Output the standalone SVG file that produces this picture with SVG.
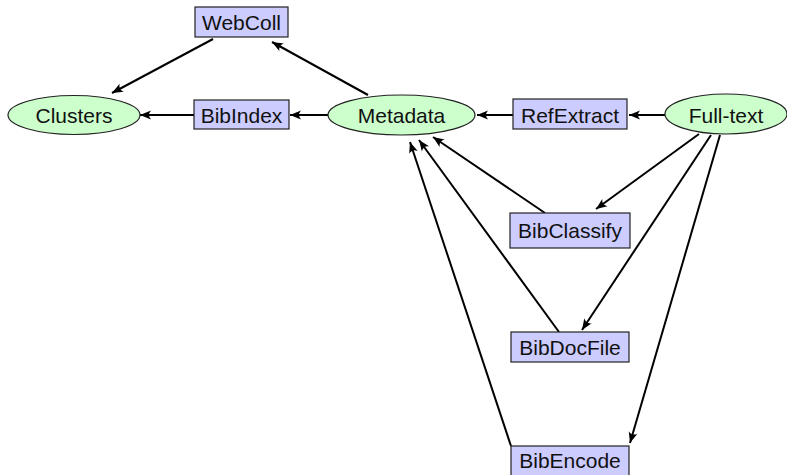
<svg xmlns="http://www.w3.org/2000/svg" width="787" height="475" viewBox="0 0 787 475">
<style>
  .box { fill: #ccccff; stroke: #222; stroke-width: 1.2; }
  .ell { fill: #ccffcc; stroke: #222; stroke-width: 1.2; }
  .lbl { font-family: "Liberation Sans", Arial, sans-serif; font-size: 21px; fill: #111; text-anchor: middle; }
  .edge { stroke: #000; stroke-width: 2; fill: none; marker-end: url(#arr); }
</style>
<defs>
  <marker id="arr" markerUnits="userSpaceOnUse" markerWidth="14" markerHeight="12" viewBox="-12 -6 14 12" refX="0" refY="0" orient="auto">
    <path d="M0,0 L-11,-4.5 Q-7,0 -11,4.5 Z" fill="#000"/>
  </marker>
</defs>
<g id="connectors">
  <line class="edge" x1="213" y1="39" x2="112" y2="93"/>
  <line class="edge" x1="368" y1="95" x2="272" y2="42"/>
  <line class="edge" x1="194" y1="115" x2="140" y2="115"/>
  <line class="edge" x1="328" y1="115" x2="290" y2="115"/>
  <line class="edge" x1="513" y1="115" x2="477" y2="115"/>
  <line class="edge" x1="665" y1="115" x2="629" y2="115"/>
  <line class="edge" x1="699" y1="134" x2="596" y2="209"/>
  <line class="edge" x1="711" y1="135" x2="582" y2="330"/>
  <line class="edge" x1="720" y1="135" x2="630" y2="443"/>
  <line class="edge" x1="545" y1="213" x2="433" y2="137"/>
  <line class="edge" x1="559" y1="332" x2="419" y2="140"/>
  <line class="edge" x1="511" y1="446" x2="410" y2="142"/>
</g>
<g id="WebColl">
  <rect class="box" x="195" y="7" width="93" height="30"/>
  <text class="lbl" x="241.5" y="29.5">WebColl</text>
</g>
<g id="Clusters">
  <ellipse class="ell" cx="74" cy="115" rx="66" ry="19.5"/>
  <text class="lbl" x="74" y="122.5">Clusters</text>
</g>
<g id="BibIndex">
  <rect class="box" x="194" y="100" width="95" height="29"/>
  <text class="lbl" x="241.5" y="122.5">BibIndex</text>
</g>
<g id="Metadata">
  <ellipse class="ell" cx="401.5" cy="115" rx="73.5" ry="20"/>
  <text class="lbl" x="401.5" y="122.5">Metadata</text>
</g>
<g id="RefExtract">
  <rect class="box" x="513" y="99" width="114" height="30"/>
  <text class="lbl" x="570" y="122.5">RefExtract</text>
</g>
<g id="Full-text">
  <ellipse class="ell" cx="726" cy="114" rx="61" ry="20"/>
  <text class="lbl" x="726" y="122.5">Full-text</text>
</g>
<g id="BibClassify">
  <rect class="box" x="510" y="213" width="120" height="35"/>
  <text class="lbl" x="570" y="237.5">BibClassify</text>
</g>
<g id="BibDocFile">
  <rect class="box" x="511" y="332" width="118" height="30"/>
  <text class="lbl" x="570" y="354.5">BibDocFile</text>
</g>
<g id="BibEncode">
  <rect class="box" x="511" y="446" width="118" height="31"/>
  <text class="lbl" x="570" y="468">BibEncode</text>
</g>
</svg>
